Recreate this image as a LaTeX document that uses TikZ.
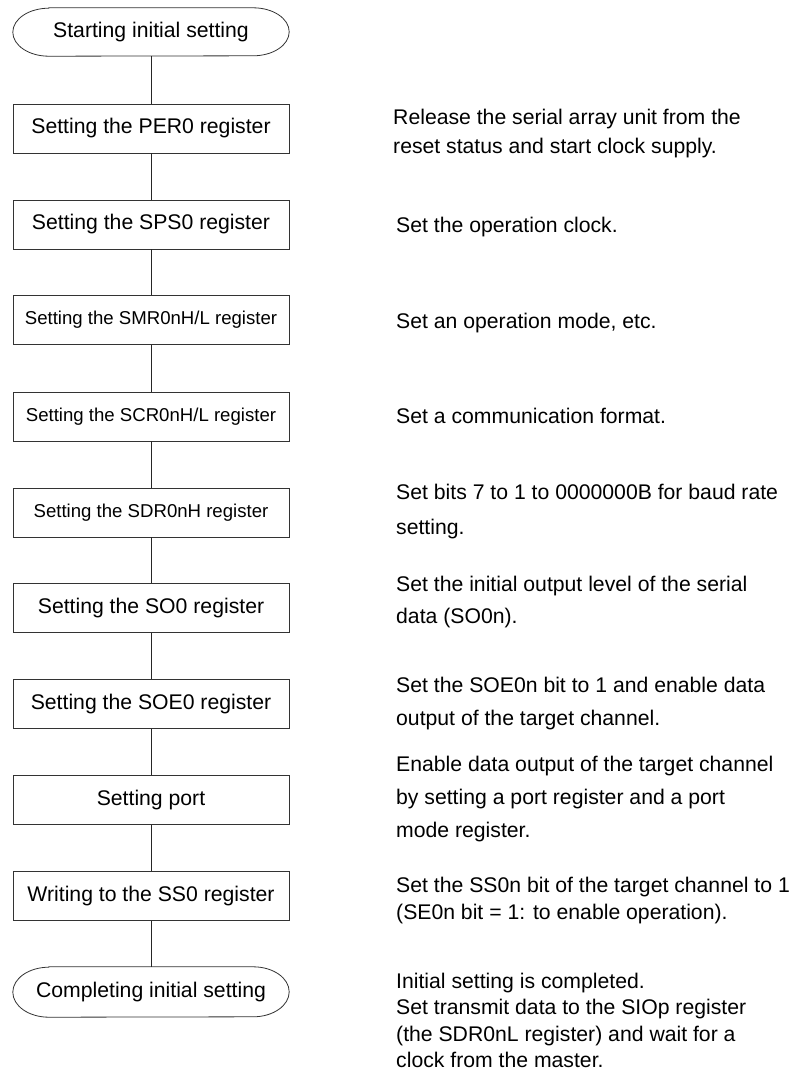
\documentclass[tikz,border=0pt]{standalone}
\usepackage{fontspec}
\setmainfont{Liberation Sans}
\begin{document}
\begin{tikzpicture}[x=1pt,y=-1pt,
  bigfont/.style={font=\fontsize{21.2}{25}\selectfont},
  smallfont/.style={font=\fontsize{18.6}{22}\selectfont},
  proc/.style={draw=black!80, line width=0.8pt, minimum width=276pt, minimum height=49pt, inner sep=0pt, bigfont},
  term/.style={minimum width=276pt, minimum height=48pt, inner sep=0pt, bigfont},
  outline/.style={draw=black!80, line width=0.8pt},
  conn/.style={draw=black!85, line width=0.8pt},
  note/.style={anchor=base west, inner sep=0pt, bigfont}]
\useasboundingbox (0,0) rectangle (794,1074);
\fill[white] (0,0) rectangle (794,1074);

\node[term] (s) at (151,32) {Starting initial setting};
\node[proc] (b1) at (151,128.5) {Setting the PER0 register};
\node[proc] (b2) at (151,224.5) {Setting the SPS0 register};
\node[proc,smallfont] (b3) at (151,320) {Setting the SMR0nH/L register};
\node[proc,smallfont] (b4) at (151,416.5) {Setting the SCR0nH/L register};
\node[proc,smallfont] (b5) at (151,512.5) {Setting the SDR0nH register};
\node[proc] (b6) at (151,608) {Setting the SO0 register};
\node[proc] (b7) at (151,704) {Setting the SOE0 register};
\node[proc] (b8) at (151,800) {Setting port};
\node[proc] (b9) at (151,896) {Writing to the SS0 register};
\node[term,minimum height=50pt] (e) at (151,992) {Completing initial setting};

\draw[outline] ([xshift=36pt]s.north west) -- ([xshift=-36pt]s.north east)
  arc[start angle=90,end angle=-90,x radius=36pt,y radius=24pt]
  -- ([xshift=36pt]s.south west)
  arc[start angle=270,end angle=90,x radius=36pt,y radius=24pt] -- cycle;
\draw[outline] ([xshift=36pt]e.north west) -- ([xshift=-36pt]e.north east)
  arc[start angle=90,end angle=-90,x radius=36pt,y radius=25pt]
  -- ([xshift=36pt]e.south west)
  arc[start angle=270,end angle=90,x radius=36pt,y radius=25pt] -- cycle;

\draw[conn] (s) -- (b1);
\draw[conn] (b1) -- (b2);
\draw[conn] (b2) -- (b3);
\draw[conn] (b3) -- (b4);
\draw[conn] (b4) -- (b5);
\draw[conn] (b5) -- (b6);
\draw[conn] (b6) -- (b7);
\draw[conn] (b7) -- (b8);
\draw[conn] (b8) -- (b9);
\draw[conn] (b9) -- (e);

\node[note] (n1a) at (393,124) {Release the serial array unit from the};
\node[note] (n1b) at (393,153) {reset status and start clock supply.};
\node[note] (n2) at (396,232) {Set the operation clock.};
\node[note] (n3) at (396,328) {Set an operation mode, etc.};
\node[note] (n4) at (396,423) {Set a communication format.};
\node[note] (n5a) at (396,499) {Set bits 7 to 1 to 0000000B for baud rate};
\node[note] (n5b) at (396,534) {setting.};
\node[note] (n6a) at (396,591) {Set the initial output level of the serial};
\node[note] (n6b) at (396,623) {data (SO0n).};
\node[note] (n7a) at (396,692) {Set the SOE0n bit to 1 and enable data};
\node[note] (n7b) at (396,725) {output of the target channel.};
\node[note] (n8a) at (396,771) {Enable data output of the target channel};
\node[note] (n8b) at (396,804) {by setting a port register and a port};
\node[note] (n8c) at (396,837) {mode register.};
\node[note] (n9a) at (396,892) {Set the SS0n bit of the target channel to 1};
\node[note] (n9b) at (396,919) {(SE0n bit = 1: to enable operation).};
\node[note] (n10a) at (396,988) {Initial setting is completed.};
\node[note] (n10b) at (396,1014) {Set transmit data to the SIOp register};
\node[note] (n10c) at (396,1041) {(the SDR0nL register) and wait for a};
\node[note] (n10d) at (396,1067) {clock from the master.};
\end{tikzpicture}
\end{document}
